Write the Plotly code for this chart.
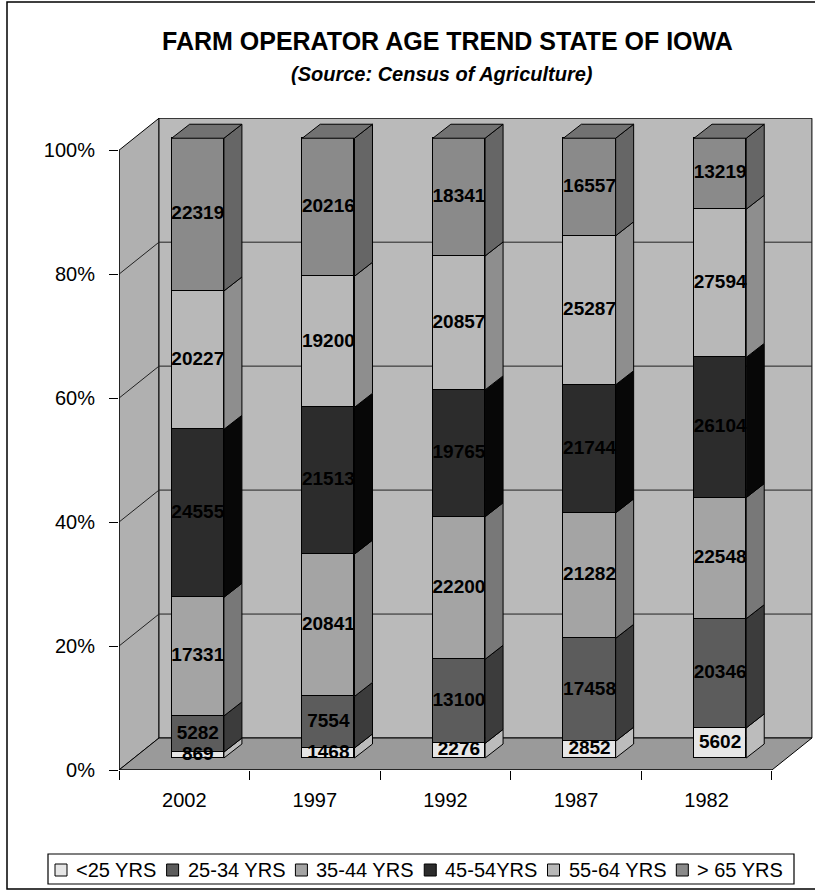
import numpy as np
import plotly.graph_objects as go

# ---------------- data ----------------
years = ["2002", "1997", "1992", "1987", "1982"]
series_names = ["<25 YRS", "25-34 YRS", "35-44 YRS", "45-54YRS", "55-64 YRS", "> 65 YRS"]
under_25 = [869, 1468, 2276, 2852, 5602]
age_25_34 = [5282, 7554, 13100, 17458, 20346]
age_35_44 = [17331, 20841, 22200, 21282, 22548]
age_45_54 = [24555, 21513, 19765, 21744, 26104]
age_55_64 = [20227, 19200, 20857, 25287, 27594]
over_65 = [22319, 20216, 18341, 16557, 13219]
y_tick_vals = [0, 20, 40, 60, 80, 100]
y_tick_text = ["0%", "20%", "40%", "60%", "80%", "100%"]

series = [under_25, age_25_34, age_35_44, age_45_54, age_55_64, over_65]

# ---------------- style ----------------
FONT = "Arial, Liberation Sans, sans-serif"
front_colors = ["#e6e6e6", "#5c5c5c", "#a4a4a4", "#2c2c2c", "#b8b8b8", "#8a8a8a"]
side_colors = ["#bcbcbc", "#3c3c3c", "#787878", "#070707", "#8e8e8e", "#666666"]
top_color = "#727272"
W, H = 815, 894
PL, PR, PT, PB = 119, 815, 118, 770     # plot area in pixels
XR = [-0.5, 4.83]
YR = [0, 105.2]
pxx = (PR - PL) / (XR[1] - XR[0])
pxy = (PB - PT) / (YR[1] - YR[0])
# 3D offsets (in axis units)
dxw, dyw = 40 / pxx, 32 / pxy           # wall depth
fx, fy = 13.5 / pxx, 12 / pxy           # bar front face offset
dxb, dyb = 18 / pxx, 14 / pxy           # bar depth
BW = 0.4


def px_x(p):
    return (p - PL) / (PR - PL)


def px_y(p):
    return (PB - p) / (PB - PT)


fig = go.Figure()

ncat = len(years)
xpos = list(range(ncat))
vals = np.array(series, dtype=float)
pct = vals / vals.sum(axis=0) * 100
cum = np.cumsum(pct, axis=0)
prev = cum - pct

# front faces: stacked, percent-normalised bars
for s, name in enumerate(series_names):
    fig.add_trace(go.Bar(
        x=xpos, y=series[s], name=name, xaxis="x2", yaxis="y2", width=BW,
        marker=dict(color=front_colors[s], line=dict(color="black", width=1)),
        showlegend=False, hoverinfo="skip"))

# side faces
for s in range(len(series)):
    xs, ys = [], []
    for i in range(ncat):
        xr = i + BW / 2
        y0, y1 = prev[s, i], cum[s, i]
        xs += [xr, xr + dxb, xr + dxb, xr, xr, None]
        ys += [y0, y0 + dyb, y1 + dyb, y1, y0, None]
    fig.add_trace(go.Scatter(
        x=xs, y=ys, xaxis="x2", yaxis="y2", mode="lines", fill="toself",
        fillcolor=side_colors[s], line=dict(color="black", width=1),
        showlegend=False, hoverinfo="skip"))

# top faces
xs, ys = [], []
for i in range(ncat):
    xl, xr = i - BW / 2, i + BW / 2
    t = cum[-1, i]
    xs += [xl, xl + dxb, xr + dxb, xr, xl, None]
    ys += [t, t + dyb, t + dyb, t, t, None]
fig.add_trace(go.Scatter(
    x=xs, y=ys, xaxis="x2", yaxis="y2", mode="lines", fill="toself",
    fillcolor=top_color, line=dict(color="black", width=1),
    showlegend=False, hoverinfo="skip"))

# value labels
lx, ly, lt = [], [], []
for s in range(len(series)):
    for i in range(ncat):
        lx.append(i)
        ly.append((prev[s, i] + cum[s, i]) / 2)
        lt.append(str(series[s][i]))
fig.add_trace(go.Scatter(
    x=lx, y=ly, text=lt, mode="text", xaxis="x2", yaxis="y2",
    textfont=dict(family=FONT, size=19, color="black", weight="bold"),
    showlegend=False, hoverinfo="skip"))

# ---------------- walls / floor ----------------
shapes = []
x0w, x1w = XR[0], ncat - 0.5
shapes.append(dict(type="path", xref="x", yref="y", layer="below",
                   path=f"M {x0w},0 L {x0w+dxw},{dyw} L {x0w+dxw},{100+dyw} L {x0w},100 Z",
                   fillcolor="#b0b0b0", line=dict(color="black", width=1)))
shapes.append(dict(type="path", xref="x", yref="y", layer="below",
                   path=f"M {x0w+dxw},{dyw} L {x1w+dxw},{dyw} L {x1w+dxw},{100+dyw} L {x0w+dxw},{100+dyw} Z",
                   fillcolor="#bababa", line=dict(color="black", width=1)))
shapes.append(dict(type="path", xref="x", yref="y", layer="below",
                   path=f"M {x0w},0 L {x1w},0 L {x1w+dxw},{dyw} L {x0w+dxw},{dyw} Z",
                   fillcolor="#9a9a9a", line=dict(color="black", width=1)))
for k in y_tick_vals[1:-1]:
    shapes.append(dict(type="line", xref="x", yref="y", layer="below",
                       x0=x0w + dxw, x1=x1w + dxw, y0=k + dyw, y1=k + dyw,
                       line=dict(color="#222222", width=1)))
    shapes.append(dict(type="line", xref="x", yref="y", layer="below",
                       x0=x0w, x1=x0w + dxw, y0=k, y1=k + dyw,
                       line=dict(color="#222222", width=1)))
# axis lines
shapes.append(dict(type="line", xref="x", yref="y", x0=x0w, x1=x0w, y0=0, y1=100,
                   line=dict(color="black", width=1.2)))
shapes.append(dict(type="line", xref="x", yref="y", x0=x0w, x1=x1w, y0=0, y1=0,
                   line=dict(color="black", width=1.2)))
# outer border
shapes.append(dict(type="rect", xref="paper", yref="paper",
                   x0=px_x(7), x1=px_x(840), y0=px_y(889), y1=px_y(2),
                   line=dict(color="black", width=1.5), fillcolor="rgba(0,0,0,0)"))

# ---------------- custom legend ----------------
cw = {"<": 0.584, ">": 0.584, " ": 0.278, "-": 0.333, "Y": 0.667, "R": 0.722, "S": 0.667}
LFS = 20
annotations = []
lx0 = 55
ly_c = 870
shapes.append(dict(type="rect", xref="paper", yref="paper",
                   x0=px_x(48), x1=px_x(794), y0=px_y(884), y1=px_y(854),
                   line=dict(color="black", width=1.2), fillcolor="white"))
cur = lx0
for s, name in enumerate(series_names):
    shapes.append(dict(type="rect", xref="paper", yref="paper",
                       x0=px_x(cur), x1=px_x(cur + 12), y0=px_y(ly_c + 6), y1=px_y(ly_c - 6),
                       fillcolor=front_colors[s], line=dict(color="black", width=1)))
    tw = sum(cw.get(c, 0.556) for c in name) * LFS
    annotations.append(dict(xref="paper", yref="paper", x=px_x(cur + 19), y=px_y(ly_c),
                            xanchor="left", yanchor="middle", showarrow=False, text=name,
                            font=dict(family=FONT, size=LFS, color="black")))
    cur += 19 + tw + 12

# titles
annotations.append(dict(xref="paper", yref="paper", x=px_x(447), y=px_y(41),
                        xanchor="center", yanchor="middle", showarrow=False,
                        text="<b>FARM OPERATOR AGE TREND STATE OF IOWA</b>",
                        font=dict(family=FONT, size=25, color="black")))
annotations.append(dict(xref="paper", yref="paper", x=px_x(442), y=px_y(74),
                        xanchor="center", yanchor="middle", showarrow=False,
                        text="<b><i>(Source: Census of Agriculture)</i></b>",
                        font=dict(family=FONT, size=20, color="black")))

fig.update_layout(
    width=W, height=H, autosize=False,
    margin=dict(l=PL, r=W - PR, t=PT, b=H - PB, pad=0),
    paper_bgcolor="white", plot_bgcolor="white",
    barmode="stack", barnorm="percent", bargap=0,
    showlegend=False,
    shapes=shapes, annotations=annotations,
    font=dict(family=FONT, color="black"),
    xaxis=dict(range=XR, tickmode="array", tickvals=xpos, ticktext=years,
               showgrid=False, zeroline=False, showline=False, ticks="",
               ticklabelstandoff=16,
               tickfont=dict(family=FONT, size=20, color="black"),
               minor=dict(tickmode="array", tickvals=[i - 0.5 for i in range(ncat + 1)],
                          ticks="outside", ticklen=9, tickcolor="black", tickwidth=1,
                          showgrid=False),
               fixedrange=True),
    yaxis=dict(range=YR, tickmode="array", tickvals=y_tick_vals, ticktext=y_tick_text,
               showgrid=False, zeroline=False, showline=False, ticks="outside",
               ticklen=9, tickcolor="black", ticklabelstandoff=10,
               tickfont=dict(family=FONT, size=20, color="black"), fixedrange=True),
    xaxis2=dict(range=[XR[0] - fx, XR[1] - fx], overlaying="x", anchor="y2",
                visible=False, fixedrange=True),
    yaxis2=dict(range=[YR[0] - fy, YR[1] - fy], overlaying="y", anchor="x2",
                visible=False, fixedrange=True),
)

fig.write_html("out.html")
